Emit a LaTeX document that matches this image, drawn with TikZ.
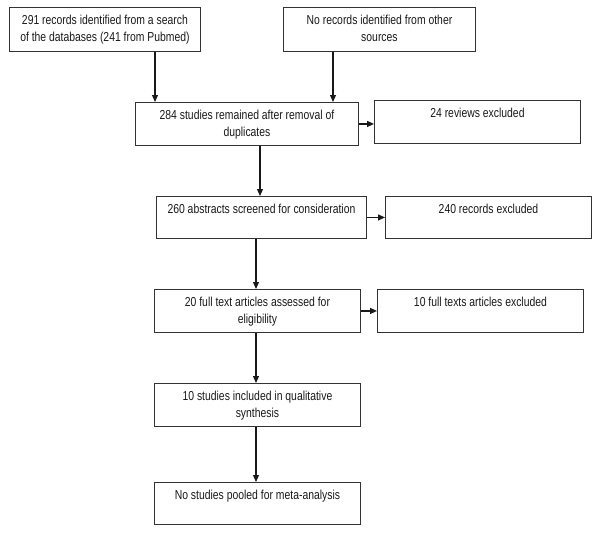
\documentclass[tikz,border=0pt]{standalone}
\usepackage{fontspec}
\setmainfont{Liberation Sans}[FakeStretch=0.8]
\usetikzlibrary{arrows.meta}
\newcommand{\bxt}[3]{\parbox[c][#2][t]{#1}{\centering\vspace*{5.5pt}\strut #3}}
\tikzset{
  box/.style={draw=black!80, line width=0.9pt, inner sep=0pt, anchor=north west,
    font=\fontsize{13}{17}\selectfont, text=black!90},
  arr/.style={draw=black!90, line width=1.2pt, -{Triangle[length=7pt,width=6pt]}}
}
\begin{document}
\begin{tikzpicture}[x=1pt,y=-1pt]
\useasboundingbox (0,0) rectangle (600,533);
\node[box] (A) at (9,7) {\bxt{191pt}{44pt}{291 records identified from a search\\of the databases (241 from Pubmed)}};
\node[box] (B) at (283,7) {\bxt{192pt}{44pt}{No records identified from other\\sources}};
\node[box] (C) at (135,102) {\bxt{223pt}{43pt}{284 studies remained after removal of\\duplicates}};
\node[box] (D) at (374,100) {\bxt{206pt}{43pt}{24 reviews excluded}};
\node[box] (E) at (156,196) {\bxt{210pt}{42pt}{260 abstracts screened for consideration}};
\node[box] (F) at (385,196) {\bxt{206pt}{42pt}{240 records excluded}};
\node[box] (G) at (154,289) {\bxt{206pt}{43pt}{20 full text articles assessed for\\eligibility}};
\node[box] (H) at (377,289) {\bxt{206pt}{43pt}{10 full texts articles excluded}};
\node[box] (I) at (154,383) {\bxt{206pt}{43pt}{10 studies included in qualitative\\synthesis}};
\node[box] (J) at (154,482) {\bxt{206pt}{42pt}{No studies pooled for meta-analysis}};
\coordinate (xa) at (155,0);
\coordinate (xb) at (333,0);
\coordinate (xc) at (260,0);
\coordinate (xe) at (256,0);
\draw[arr] (A.south -| xa) -- (C.north -| xa);
\draw[arr] (B.south -| xb) -- (C.north -| xb);
\draw[arr] (C.east) -- (C.east -| D.west);
\draw[arr] (C.south -| xc) -- (E.north -| xc);
\draw[arr] (E.east) -- (E.east -| F.west);
\draw[arr] (E.south -| xe) -- (G.north -| xe);
\draw[arr] (G.east) -- (G.east -| H.west);
\draw[arr] (G.south -| xe) -- (I.north -| xe);
\draw[arr] (I.south -| xe) -- (J.north -| xe);
\end{tikzpicture}
\end{document}
